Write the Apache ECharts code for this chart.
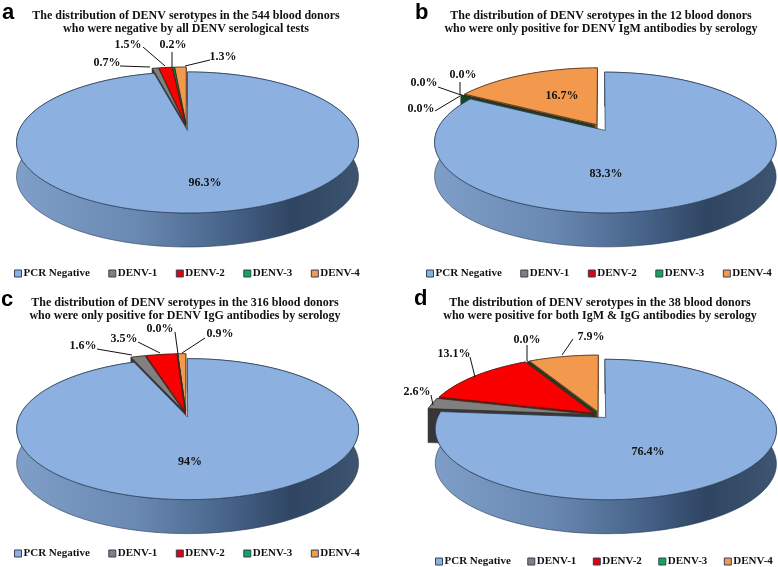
<!DOCTYPE html>
<html><head><meta charset="utf-8">
<style>html,body{margin:0;padding:0;background:#fff}#c{width:778px;height:567px}</style>
<script src="https://cdn.jsdelivr.net/npm/echarts@6/dist/echarts.min.js"></script>
</head><body><div id="c"></div>
<script>
const categories = ['PCR Negative','DENV-1','DENV-2','DENV-3','DENV-4'];
const valuesA = [96.3,0.7,1.5,0.2,1.3];
const valuesB = [83.3,0,0,0,16.7];
const valuesC = [94,1.6,3.5,0,0.9];
const valuesD = [76.4,2.6,13.1,0,7.9];
const textsA = ['96.3%','0.7%','1.5%','0.2%','1.3%'];
const textsB = ['83.3%','0.0%','0.0%','0.0%','16.7%'];
const textsC = ['94%','1.6%','3.5%','0.0%','0.9%'];
const textsD = ['76.4%','2.6%','13.1%','0.0%','7.9%'];
const titleA = 'The distribution of DENV serotypes in the 544 blood donors\nwho were negative by all DENV serological tests';
const titleB = 'The distribution of DENV serotypes in the 12 blood donors\nwho were only positive for DENV IgM antibodies by serology';
const titleC = 'The distribution of DENV serotypes in the 316 blood donors\nwho were only positive for DENV IgG antibodies by serology';
const titleD = 'The distribution of DENV serotypes in the 38 blood donors\nwho were positive for both IgM & IgG antibodies by serology';

const topColors = ['#8cb0e0','#808080','#fb0000','#00a050','#f2994e'];
const wallColors = [null,'#363636','#8a0606','#0c4a22','#8a5226'];
const legendColors = ['#8cb0e0','#808080','#e00010','#10a858','#f2994e'];
const orderDefault = [4,3,2,1,0];
const orderZero = [4,1,2,3,0];
const FONT = '"Liberation Serif","Times New Roman",serif';

const panels = [
 {v:valuesA,t:textsA,title:titleA,letter:'a',order:orderDefault,lx:2,ly:2,tx:186,ty:9,cx:186.5,cy:127,legendTop:268,legendLeft:14,gap:18.5,
  labels:[[205,183],[107,63,[[120,66],[150,67]]],[128,45,[[143,47],[165,66]]],[173,45,[[172,52],[172,67]]],[223,57,[[210,60],[185,66]]]]},
 {v:valuesB,t:textsB,title:titleB,letter:'b',order:orderZero,lx:415,ly:2,tx:601,ty:9,cx:601,cy:127.5,legendTop:268,legendLeft:426,gap:18.5,
  labels:[[606,174],[424,83,[[438,87],[461,95]]],[463,75,[[460,82],[460,95]]],[421,109,[[435,111],[460,96]]],[562,96]]},
 {v:valuesC,t:textsC,title:titleC,letter:'c',order:orderDefault,lx:1,ly:289,tx:185,ty:296,cx:186,cy:413.7,legendTop:548,legendLeft:14,gap:18.5,
  labels:[[190,462],[83,346,[[97,349],[132,355]]],[124,339,[[138,342],[160,353]]],[160,329,[[175,332],[178,354]]],[220,334,[[205,338],[182,353]]]]},
 {v:valuesD,t:textsD,title:titleD,letter:'d',order:orderDefault,lx:414,ly:288,tx:600,ty:296,cx:600,cy:415,legendTop:556,legendLeft:435,gap:16.5,
  labels:[[648,452],[417,392,[[431,395],[433,405]]],[454,354,[[470,357],[475,377]]],[527,340,[[527,345],[527,361]]],[591,337,[[573,339],[562,355]]]]}
];

const RX=167, RY=67.3, PERSP=0.17, DEPTH=34, EXPLODE=0.05;
function project(p,u,v){const w=1-PERSP*v;return [p.cx+RX*u/w,p.cy+RY*v/w];}

function sliceGeom(p,idx){
  let s=0;for(let i=0;i<idx;i++)s+=p.v[i];
  const a0=s/100*Math.PI*2,a1=(s+p.v[idx])/100*Math.PI*2,am=(a0+a1)/2;
  const ou=EXPLODE*Math.sin(am),ov=-EXPLODE*Math.cos(am);
  const apex=project(p,ou,ov),rim=[];
  const n=Math.max(1,Math.ceil((a1-a0)/(Math.PI/90)));
  for(let i=0;i<=n;i++){const a=a0+(a1-a0)*i/n;rim.push(project(p,ou+Math.sin(a),ov-Math.cos(a)));}
  return {apex,rim};
}
const drop=pts=>pts.map(q=>[q[0],q[1]+DEPTH]);

function renderSlice(p,idx){
  const g=sliceGeom(p,idx),kids=[];
  const top=[g.apex].concat(g.rim);
  const wallPoly=pts=>pts.concat(drop(pts).reverse());
  if(idx===0){
    kids.push({type:'polygon',shape:{points:wallPoly(g.rim)},style:{
      fill:{type:'linear',x:p.cx-170,y:0,x2:p.cx+175,y2:0,global:true,colorStops:[
        {offset:0,color:'#7f9ec8'},{offset:.35,color:'#6a89b2'},{offset:.62,color:'#466288'},
        {offset:.8,color:'#2f4562'},{offset:1,color:'#3d5570'}]},
      stroke:'#2a3a50',lineWidth:.6}});
  } else {
    const w=wallColors[idx];
    kids.push({type:'polygon',shape:{points:wallPoly(g.rim)},style:{fill:w,stroke:w,lineWidth:.5}});
    kids.push({type:'polygon',shape:{points:wallPoly([g.apex,g.rim[0]])},style:{fill:w,stroke:w,lineWidth:.5}});
    kids.push({type:'polygon',shape:{points:wallPoly([g.apex,g.rim[g.rim.length-1]])},style:{fill:w,stroke:w,lineWidth:.5}});
  }
  kids.push({type:'polygon',shape:{points:top},style:{fill:topColors[idx],stroke:idx===0?'#24364e':'#3a2a20',lineWidth:.7}});
  return {type:'group',children:kids};
}

function renderLabel(p,idx){
  const L=p.labels[idx],kids=[];
  if(L[2])kids.push({type:'polyline',shape:{points:L[2]},style:{fill:null,stroke:'#111',lineWidth:1}});
  kids.push({type:'text',style:{text:p.t[idx],x:L[0],y:L[1],fill:'#111',
    font:'bold 12px '+FONT,textAlign:'center',textVerticalAlign:'middle'}});
  return {type:'group',children:kids};
}

const series=[],title=[],legend=[];
panels.forEach((p,pi)=>{
  p.order.forEach((idx,oi)=>{
    series.push({type:'custom',name:categories[idx],coordinateSystem:'none',silent:true,z:2+oi,
      itemStyle:{color:legendColors[idx]},data:[[p.v[idx]]],
      renderItem:()=>renderSlice(p,idx)});
  });
  p.v.forEach((val,idx)=>{
    series.push({type:'custom',name:'label'+pi+idx,coordinateSystem:'none',silent:true,z:20,
      data:[[val]],renderItem:()=>renderLabel(p,idx)});
  });
  title.push({text:p.title,left:p.tx,top:p.ty,textAlign:'center',padding:0,
    textStyle:{fontFamily:FONT,fontWeight:'bold',fontSize:12,lineHeight:13,color:'#111'}});
  title.push({text:p.letter,left:p.lx,top:p.ly,padding:0,
    textStyle:{fontFamily:'"Liberation Sans",Arial,sans-serif',fontWeight:'bold',fontSize:22,color:'#000'}});
  legend.push({show:true,left:p.legendLeft,top:p.legendTop,padding:0,orient:'horizontal',itemGap:p.gap,
    itemWidth:7,itemHeight:7,selectedMode:false,
    textStyle:{fontFamily:FONT,fontWeight:'bold',fontSize:11,color:'#111',padding:[0,0,0,-3]},
    data:categories.map((n,i)=>({name:n,icon:'rect',itemStyle:{color:legendColors[i],borderColor:'#33415a',borderWidth:1}}))});
});

const chart=echarts.init(document.getElementById('c'),null,{renderer:'canvas'});
chart.setOption({animation:false,backgroundColor:'#fff',title,legend,series});
</script></body></html>
